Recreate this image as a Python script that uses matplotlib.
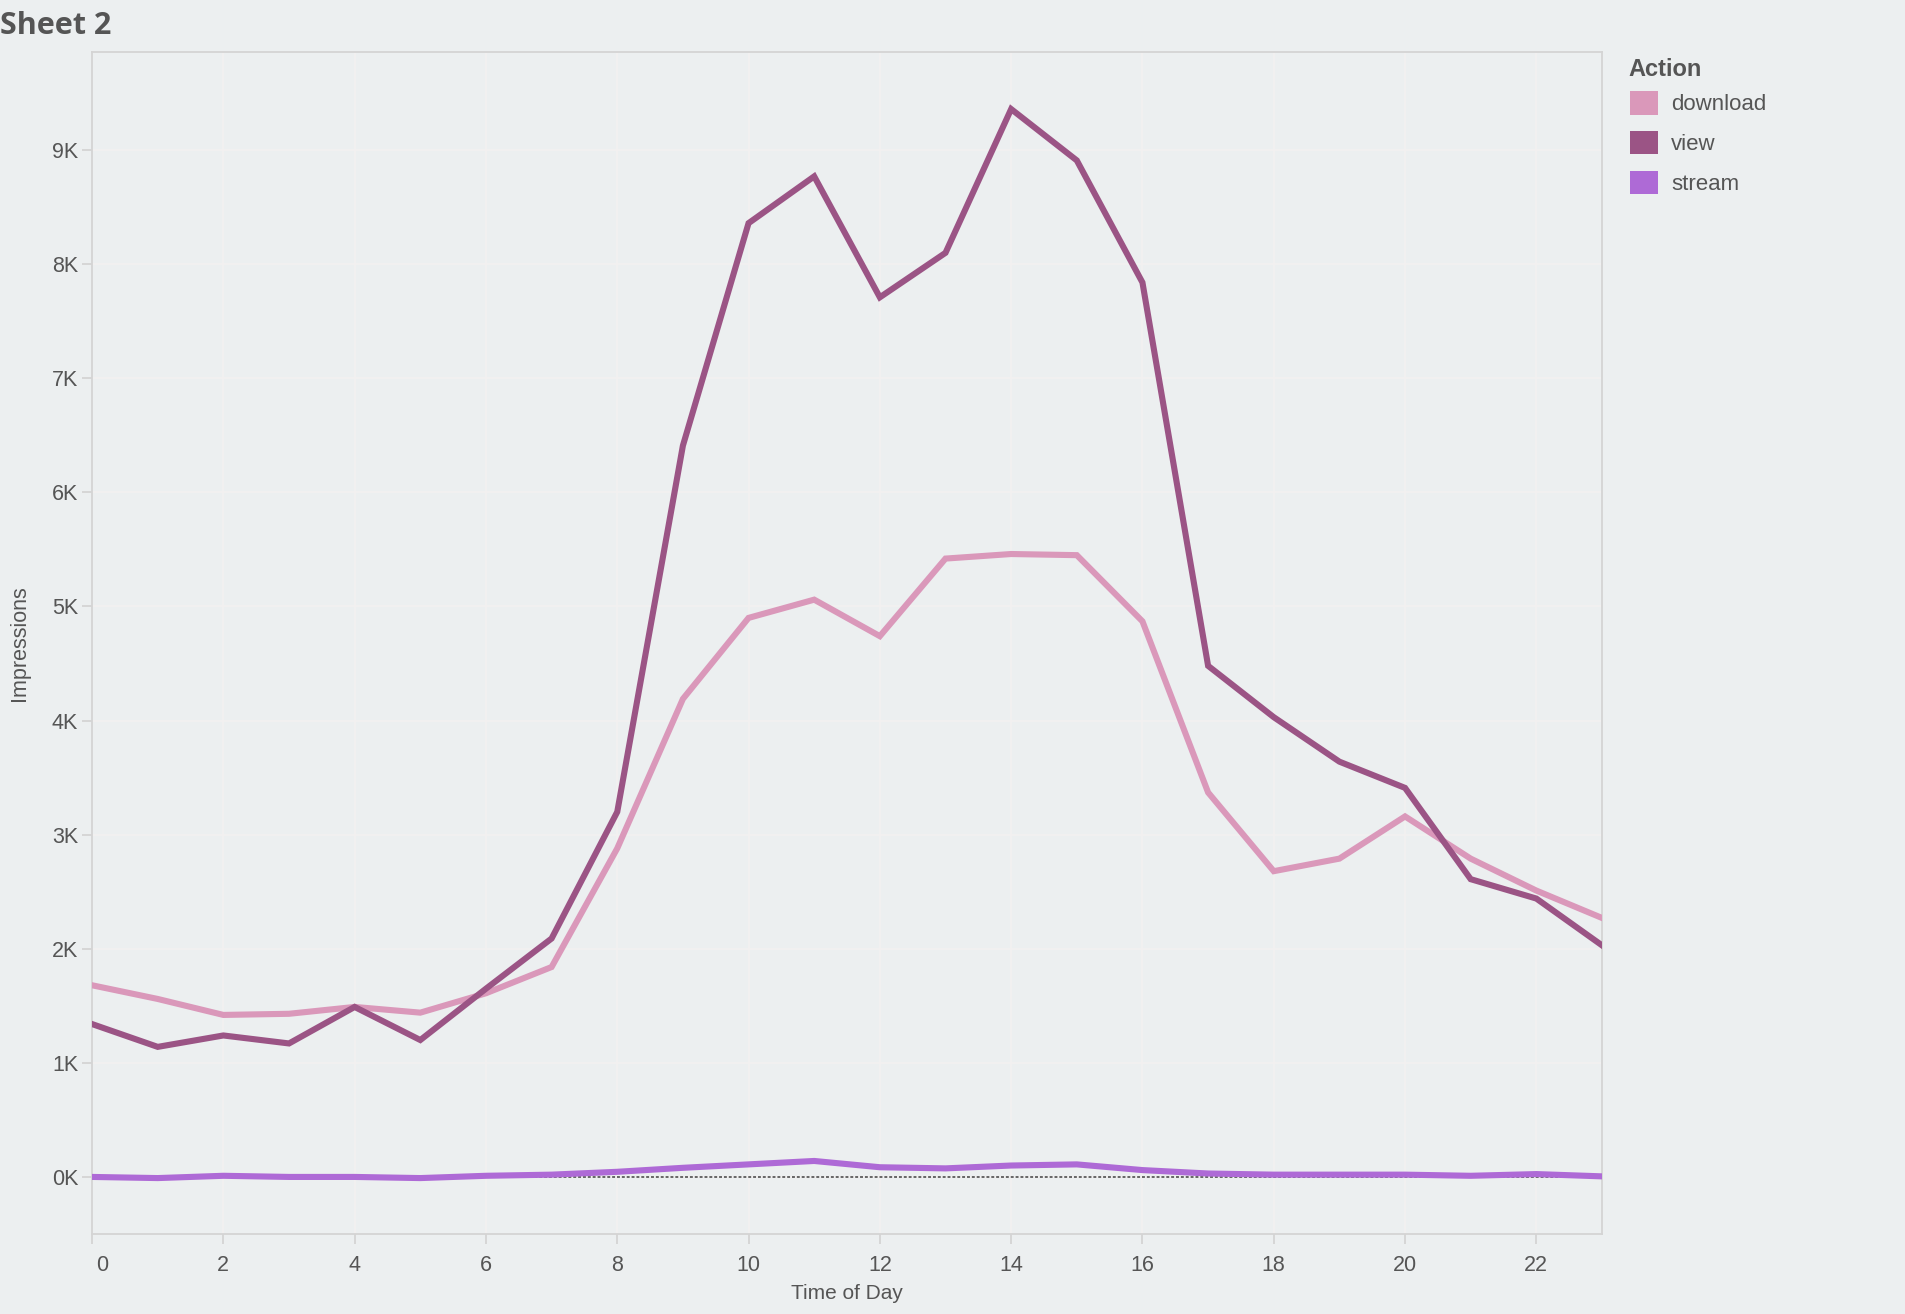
import matplotlib
matplotlib.use('Agg')
import matplotlib.pyplot as plt
import matplotlib.transforms as mtrans
from matplotlib.patches import Patch
from matplotlib.ticker import FuncFormatter

# ── data (Impressions per hour) ──
HOURS = list(range(24))
DOWNLOAD = [1680, 1560, 1420, 1430, 1490, 1440, 1610, 1840, 2880, 4190, 4900, 5060,
            4740, 5420, 5460, 5450, 4870, 3370, 2680, 2790, 3160, 2790, 2510, 2270]
VIEW = [1340, 1140, 1240, 1170, 1490, 1200, 1650, 2090, 3200, 6410, 8360, 8770,
        7710, 8100, 9360, 8910, 7840, 4480, 4030, 3640, 3410, 2610, 2440, 2030]
STREAM = [0, -10, 10, 0, 0, -10, 10, 20, 45, 80, 110, 140,
          85, 75, 100, 110, 60, 30, 20, 20, 20, 10, 25, 5]
SERIES = ['download', 'view', 'stream']
COLORS = ['#DA98BA', '#9B5485', '#AE6AD6']
X_TICKS = list(range(0, 23, 2))
Y_TICKS = list(range(0, 10000, 1000))

BG = '#ECEFF0'
TXT = '#555555'
GRID = '#F3F1F1'
SPINE = '#D4D4D4'

plt.rcParams['font.family'] = ['Liberation Sans', 'DejaVu Sans']

fig = plt.figure(figsize=(19.06, 13.14), dpi=100, facecolor=BG)
ax = fig.add_axes([0.0483, 0.0609, 0.7922, 0.8995], facecolor=BG)

ax.axhline(0, color='#666666', lw=1.4, ls=(0, (1.5, 1.0)), zorder=2)
for name, vals, col in zip(SERIES, [DOWNLOAD, VIEW, STREAM], COLORS):
    ax.plot(HOURS, vals, color=col, lw=4.4, solid_joinstyle='miter', zorder=3, label=name)

ax.set_xlim(0, 23)
ax.set_ylim(-500, 9860)
ax.set_xticks(X_TICKS)
ax.set_yticks(Y_TICKS)
ax.yaxis.set_major_formatter(FuncFormatter(lambda v, p: f'{v / 1000:.0f}K'))
ax.grid(True, color=GRID, lw=1.2, zorder=1)
ax.set_axisbelow(True)
for s in ax.spines.values():
    s.set_color(SPINE)
    s.set_linewidth(1.3)
ax.tick_params(axis='both', colors=SPINE, labelcolor=TXT, labelsize=15.5,
               length=7, width=1.3)
ax.tick_params(axis='y', pad=3)
ax.tick_params(axis='x', pad=8)

# first x tick label is nudged right of its tick
lbl0 = ax.get_xticklabels()[0]
lbl0.set_horizontalalignment('left')
lbl0.set_transform(lbl0.get_transform() + mtrans.ScaledTranslation(4 / 100, 0, fig.dpi_scale_trans))

ax.set_xlabel('Time of Day', fontsize=15, color=TXT, labelpad=6)
ax.set_ylabel('Impressions', fontsize=15.5, color=TXT, labelpad=8)
ax.yaxis.set_label_coords(-0.041, 0.5)

fig.text(0.0, 1 - 34 / 1314, 'Sheet 2', fontsize=22, fontweight='bold', color=TXT,
         family=['Open Sans', 'DejaVu Sans'], ha='left', va='baseline')

# legend: title as its own text, colour swatches below
fig.text(1628 / 1906, 1 - 70 / 1314, 'Action', fontsize=17, fontweight='bold', color=TXT,
         ha='left', va='center')
handles = [Patch(facecolor=c, edgecolor='none') for c in COLORS]
leg = fig.legend(handles, SERIES, loc='upper left', bbox_to_anchor=(1630 / 1906, 1 - 91 / 1314),
                 frameon=False, fontsize=16,
                 handlelength=1.25, handleheight=1.25, handletextpad=0.6, labelspacing=0.7,
                 borderaxespad=0, borderpad=0)
for t in leg.get_texts():
    t.set_color(TXT)

fig.savefig('out.png', dpi=100, facecolor=BG)
